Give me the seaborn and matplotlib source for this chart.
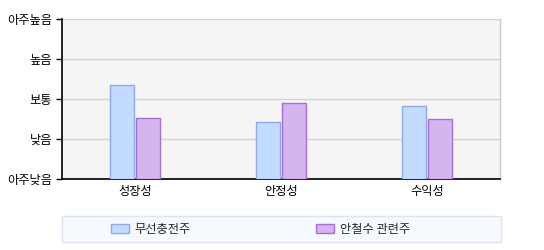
import matplotlib
matplotlib.use("Agg")
import matplotlib.pyplot as plt
import seaborn as sns
import pandas as pd
from matplotlib.patches import Patch, Rectangle

categories = ["성장성", "안정성", "수익성"]
series_names = ["무선충전주", "안철수 관련주"]
wireless = [2.35, 1.42, 1.82]
ahn = [1.52, 1.89, 1.49]
level_labels = ["아주낮음", "낮음", "보통", "높음", "아주높음"]

fills = ["#C2DBFF", "#D5B5EE"]
edges = ["#8EA9EC", "#A56ED3"]

df = pd.DataFrame({
    "category": categories * 2,
    "series": [series_names[0]] * 3 + [series_names[1]] * 3,
    "value": wireless + ahn,
})

sns.set_theme(style="white")
plt.rcParams["font.family"] = ["Noto Sans CJK KR", "DejaVu Sans"]

fig = plt.figure(figsize=(5.44, 2.50), dpi=100)
ax = fig.add_axes([62/544, 1-179/250, (500-62)/544, 160/250])
ax.set_facecolor("#F5F5F5")

sns.barplot(data=df, x="category", y="value", hue="series", order=categories,
            hue_order=series_names, palette=fills, width=0.36, gap=0.08,
            ax=ax, legend=False, saturation=1)

for i, container in enumerate(ax.containers):
    for bar in container:
        bar.set_edgecolor(edges[i])
        bar.set_linewidth(1.0)
        bar.set_zorder(3)

ax.set_ylim(0, 4)
ax.set_xlim(-0.5, 2.5)
ax.set_yticks(range(5))
ax.set_yticklabels(level_labels, fontsize=8.8, color="#000000")
ax.yaxis.grid(True, color="#D4D4D4", linewidth=1.0, zorder=0)
ax.set_axisbelow(True)
ax.set_xlabel("")
ax.set_ylabel("")
ax.set_xticks(range(3))
ax.set_xticklabels(categories, fontsize=8.8, color="#000000")
ax.set_xticks([-0.5, 0.5, 1.5, 2.5], minor=True)
ax.tick_params(axis="x", which="major", length=0, pad=4)
ax.tick_params(axis="x", which="minor", length=4, width=1, color="black", direction="out")
ax.tick_params(axis="y", which="major", length=4, width=1, color="black", direction="out", pad=3, left=True)

for side in ["left", "bottom"]:
    ax.spines[side].set_color("black")
    ax.spines[side].set_linewidth(1.2)
ax.spines["top"].set_visible(False)
ax.spines["right"].set_color("#C8C8C8")
ax.spines["right"].set_linewidth(1.0)

# legend box
fig.patches.append(Rectangle((62/544, 1-242/250), (501-62)/544, 26/250,
                             transform=fig.transFigure, facecolor="#F6F9FE",
                             edgecolor="#DCE5EF", linewidth=1.0, zorder=0))
handles = [Patch(facecolor=fills[i], edgecolor=edges[i], label=series_names[i]) for i in range(2)]
fig.legend(handles=handles, loc="center left", bbox_to_anchor=(111/544, 1-229/250),
           ncol=2, frameon=False, fontsize=8.8, handlelength=1.45, handleheight=0.7,
           handletextpad=0.45, columnspacing=10.3, borderpad=0, borderaxespad=0)

fig.savefig("out.png", dpi=100)
